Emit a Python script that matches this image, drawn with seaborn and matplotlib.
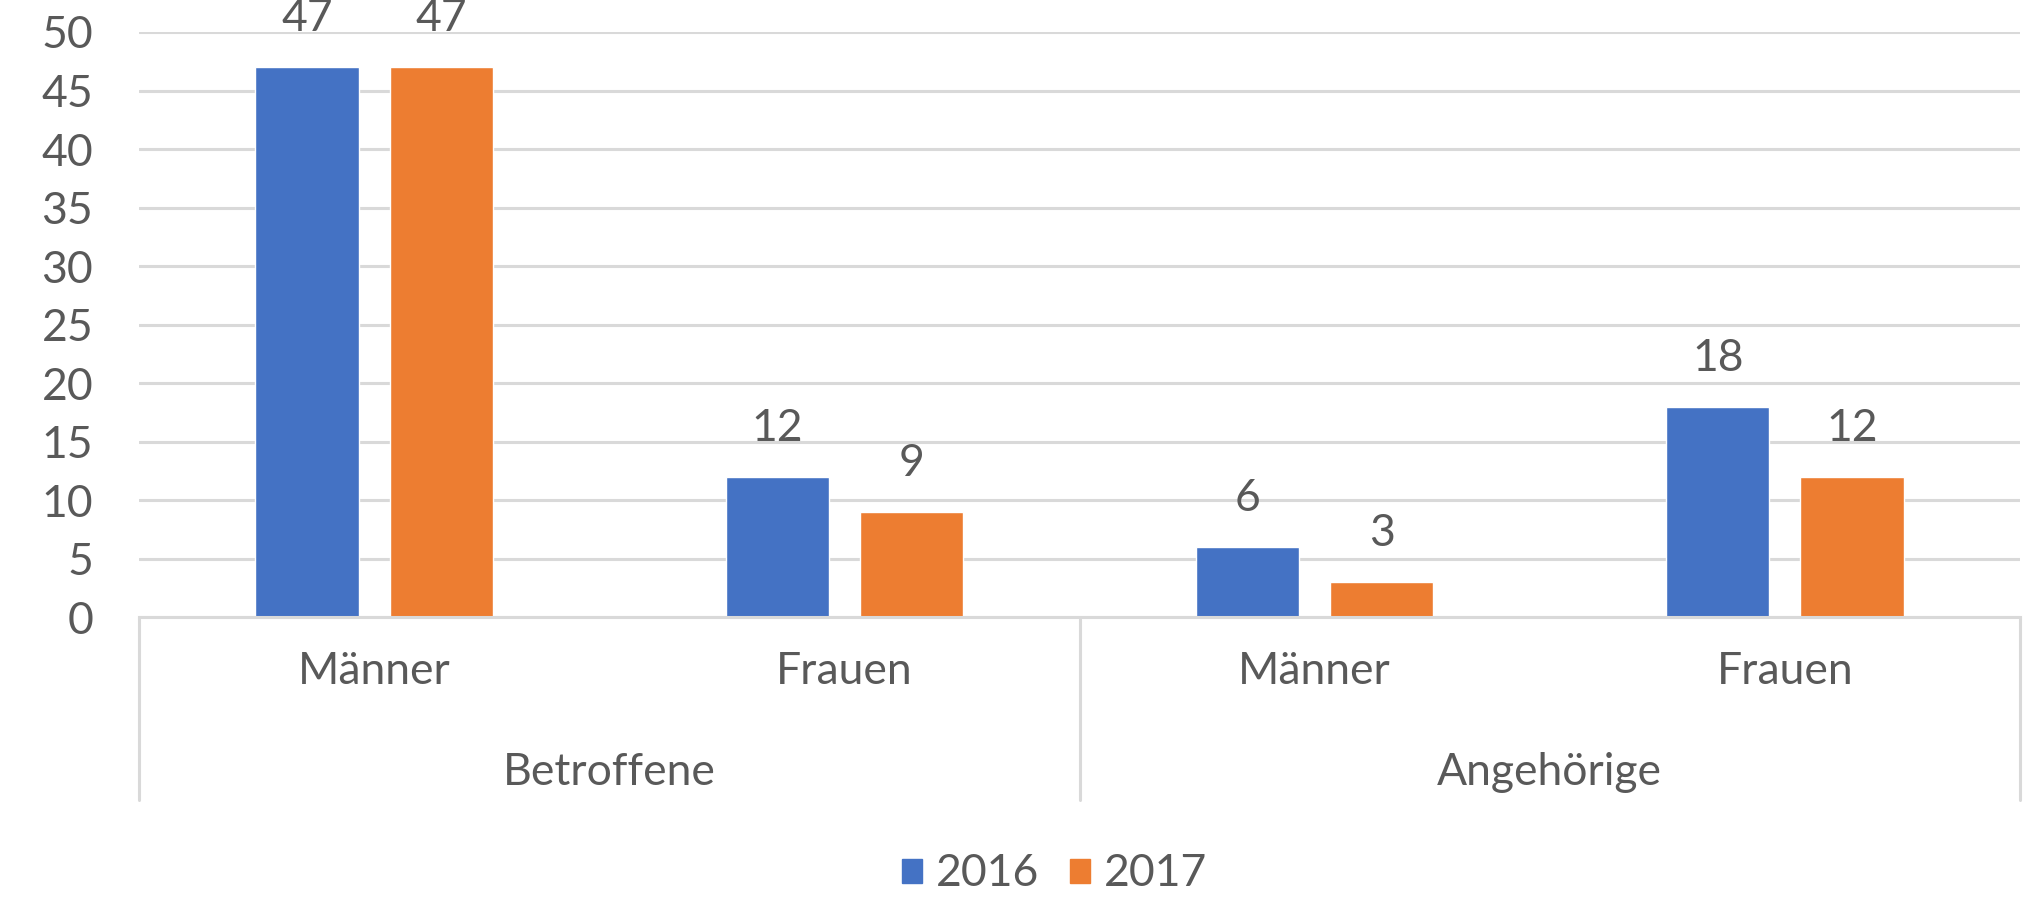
import numpy as np
import pandas as pd
import seaborn as sns
import matplotlib.pyplot as plt

# Werte
gruppen = ['Betroffene', 'Betroffene', 'Angehörige', 'Angehörige']
geschlecht = ['Männer', 'Frauen', 'Männer', 'Frauen']
werte_2016 = [47, 12, 6, 18]
werte_2017 = [47, 9, 3, 12]
jahre = ['2016', '2017']
farben = ['#4472C4', '#ED7D31']

keys = [g + '|' + s for g, s in zip(gruppen, geschlecht)]
df = pd.DataFrame({
    'key': keys * 2,
    'wert': werte_2016 + werte_2017,
    'jahr': [jahre[0]] * 4 + [jahre[1]] * 4,
})

sns.set_style('white')
plt.rcParams['font.family'] = ['Lato', 'DejaVu Sans']
textfarbe = '#595959'
gitter = '#D9D9D9'
fs = 32

fig = plt.figure(figsize=(20.24, 9.01), dpi=100)
ax = fig.add_axes([0.0687, 0.315, 0.9293, 0.6495])

sns.barplot(data=df, x='key', y='wert', hue='jahr', palette=farben,
            width=0.571, gap=0.23, ax=ax, saturation=1, legend=True)

ax.set_ylim(0, 50)
ax.set_xlim(-0.5, 3.5)
ax.set_yticks(np.arange(0, 51, 5))
ax.yaxis.grid(True, color=gitter, lw=2.2)
ax.set_axisbelow(True)
for s in ['left', 'right', 'top']:
    ax.spines[s].set_visible(False)
ax.spines['bottom'].set_color(gitter)
ax.spines['bottom'].set_linewidth(2.2)
ax.set_xlabel('')
ax.set_ylabel('')
ax.set_xticks(range(4))
ax.set_xticklabels(geschlecht)
ax.tick_params(axis='x', length=0, pad=24, labelsize=fs, labelcolor=textfarbe)
ax.tick_params(axis='y', length=0, pad=33, labelsize=fs, labelcolor=textfarbe)

for cont in ax.containers:
    ax.bar_label(cont, padding=20, fontsize=fs, color=textfarbe, clip_on=False)

# zweite Kategorienebene
trans = ax.get_xaxis_transform()
for xs in [-0.5, 1.5, 3.5]:
    ax.plot([xs, xs], [0, -0.313], transform=trans, color=gitter, lw=2.2,
            clip_on=False)
for xg, name in [(0.5, 'Betroffene'), (2.5, 'Angehörige')]:
    ax.text(xg, -0.265, name, transform=trans, ha='center', va='center',
            fontsize=fs, color=textfarbe)

ax.get_legend().remove()
handles = [plt.Rectangle((0, 0), 1, 1, color=c) for c in farben]
fig.legend(handles, jahre, loc='center', bbox_to_anchor=(0.521, 0.03), ncol=2,
           frameon=False, fontsize=fs, labelcolor=textfarbe,
           handlelength=0.45, handleheight=0.45, handletextpad=0.3,
           columnspacing=0.7)

fig.savefig('out.png', dpi=100)
